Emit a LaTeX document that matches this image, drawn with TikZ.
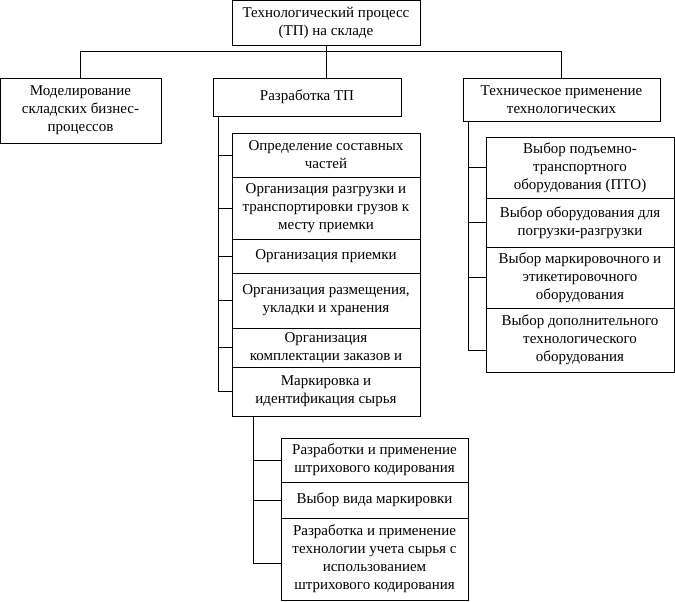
\documentclass[tikz,border=0pt]{standalone}
\usepackage{fontspec}
\setmainfont{Liberation Serif}
\usetikzlibrary{calc}

\begin{document}
\begin{tikzpicture} [x=1pt, y=-1pt, line width=0.8pt,
        every node/.style={draw, align=center, inner sep=0pt, font=\fontsize{15}{18}\selectfont},
        box/.style 2 args={minimum width=#1, minimum height=#2}]
            \useasboundingbox (0, 0) rectangle (675, 602);
            \node[box={188pt}{45pt}] (top) at (326, 22.5)    {Технологический процесс\\(ТП) на складе};
            \node[box={161pt}{65pt}] (model) at (80.5, 110.5) {Моделирование\\складских бизнес-\\процессов};
            \node[box={188pt}{38pt}] (razr) at (307, 97)      {Разработка ТП};
            \node[box={197pt}{43pt}] (tech) at (561.5, 99.5)  {Техническое применение\\технологических};

            \node[box={188pt}{44pt}] (d1) at (326, 155)   {Определение составных\\частей};
            \node[box={188pt}{62pt}] (d2) at (326, 208)   {Организация разгрузки и\\транспортировки грузов к\\месту приемки};
            \node[box={188pt}{34pt}] (d3) at (326, 256)   {Организация приемки};
            \node[box={188pt}{55pt}] (d4) at (326, 300.5) {Организация размещения,\\укладки и хранения};
            \node[box={188pt}{39pt}] (d5) at (326, 347.5) {Организация\\комплектации заказов и};
            \node[box={188pt}{49pt}] (d6) at (326, 391.5) {Маркировка и\\идентификация сырья};

            \node[box={188pt}{61pt}] (t1) at (580, 167.5) {Выбор подъемно-\\транспортного\\оборудования (ПТО)};
            \node[box={188pt}{49pt}] (t2) at (580, 222.5) {Выбор оборудования для\\погрузки-разгрузки};
            \node[box={188pt}{61pt}] (t3) at (580, 277.5) {Выбор маркировочного и\\этикетировочного\\оборудования};
            \node[box={188pt}{64pt}] (t4) at (580, 340)   {Выбор дополнительного\\технологического\\оборудования};

            \node[box={187pt}{44pt}] (m1) at (374.5, 460) {Разработки и применение\\штрихового кодирования};
            \node[box={187pt}{36pt}] (m2) at (374.5, 500) {Выбор вида маркировки};
            \node[box={187pt}{82pt}] (m3) at (374.5, 559) {Разработка и применение\\технологии учета сырья с\\использованием\\штрихового кодирования};

            \coordinate (bus) at (0, 51);
            \coordinate (dl) at (218, 0);
            \coordinate (tl) at (468, 0);
            \coordinate (ml) at (253, 0);

            \draw (top) -- (top |- razr.north);
            \draw (model.north) |- (bus -| tech.north) -- (tech.north);

            \draw (razr.south -| dl) |- (d6.west);
            \foreach \n in {d1, d2, d3, d4, d5}
                \draw (dl |- \n) -- (\n.west);
            \draw (tech.south -| tl) |- ($(t4.west) + (0, 10)$);
            \foreach \n in {t1, t2, t3}
                \draw (tl |- \n) -- (\n.west);
            \draw (d6.south -| ml) |- ($(m3.west) + (0, 4)$);
            \foreach \n in {m1, m2}
                \draw (ml |- \n) -- (\n.west);
        \end{tikzpicture}
\end{document}
